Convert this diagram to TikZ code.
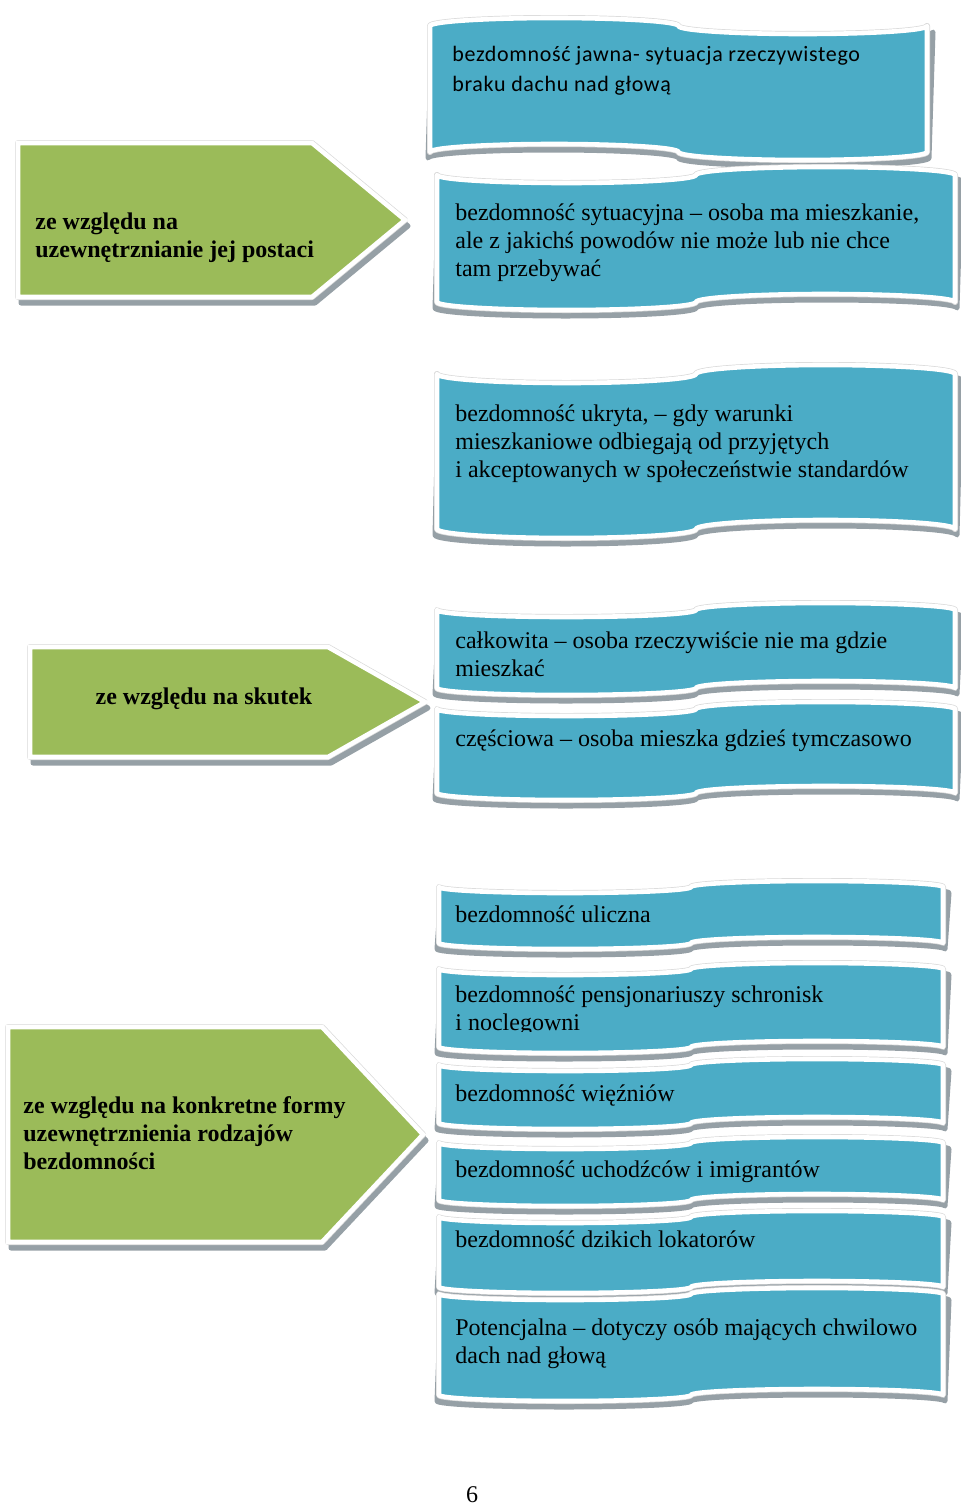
\documentclass[tikz,border=0pt]{standalone}
\usepackage{fontspec}
\setmainfont{Liberation Serif}
\newfontfamily\calibri[LetterSpace=3]{Carlito}
\usetikzlibrary{positioning}

\definecolor{wblue}{HTML}{4BACC6}
\definecolor{wgreen}{HTML}{9BBB59}
\definecolor{shade}{RGB}{150,160,166}

% wavy ribbon: left, top, right, bottom, amplitude, side (1 = left half high)
\newcommand{\wavepath}[6]{(#1,#2+#5)
  arc[start angle=180, end angle={180+180*#6}, x radius={(#3-#1)/4}, y radius=#5]
  arc[start angle=180, end angle={180-180*#6}, x radius={(#3-#1)/4}, y radius=#5]
  -- (#3,#4-#5)
  arc[start angle=0, end angle={180*#6}, x radius={(#3-#1)/4}, y radius=#5]
  arc[start angle={180+180*#6}, end angle=180, x radius={(#3-#1)/4}, y radius=#5]
  -- cycle}
\newcommand{\wave}[6]{%
  \fill[shadow] \wavepath{#1+2}{#2+6}{#3+2}{#4+6}{#5}{#6};
  \draw[rim] \wavepath{#1}{#2}{#3}{#4}{#5}{#6};
  \draw[ribbon] \wavepath{#1}{#2}{#3}{#4}{#5}{#6};}
% pointer: left, top, end of body, tip, bottom
\newcommand{\plate}[5]{%
  \fill[shadow] (#1+3,#2+6) -- (#3+3,#2+6) -- (#4+3,{(#2+#5)/2+6}) -- (#3+3,#5+6) -- (#1+3,#5+6) -- cycle;
  \draw[rim] (#1,#2) -- (#3,#2) -- (#4,{(#2+#5)/2}) -- (#3,#5) -- (#1,#5) -- cycle;
  \draw[pointer] (#1,#2) -- (#3,#2) -- (#4,{(#2+#5)/2}) -- (#3,#5) -- (#1,#5) -- cycle;}

\begin{document}
\begin{tikzpicture}[x=0.5pt, y=-0.5pt,
    shadow/.style={fill=shade, draw=shade, line width=2.5pt, line join=round},
    rim/.style={draw=black!15, line width=3pt, line join=round},
    ribbon/.style={draw=white, line width=2.3pt, fill=wblue, line join=round},
    pointer/.style={draw=white, line width=2.3pt, fill=wgreen, line join=miter},
    txt/.style={inner sep=0pt, align=left, anchor=base west, font=\fontsize{12}{14}\selectfont},
    head/.style={txt, font=\fontsize{12}{14}\selectfont\bfseries}]
  \useasboundingbox (0,0) rectangle (960,1505);

  % ribbons on the right
  \wave{430}{18}{927}{160}{8}{1}
  \wave{437}{167}{955}{310}{8}{-1}
  \wave{437}{365}{955}{538}{9}{-1}
  \wave{437}{603}{955}{695}{7}{-1}
  \wave{437}{702}{955}{800}{7}{-1}
  \wave{439}{881}{943}{949}{6}{-1}
  \wave{439}{963}{943}{1053}{6}{-1}
  \wave{439}{1059}{943}{1129}{6}{-1}
  \wave{439}{1137}{943}{1206}{6}{-1}
  \wave{439}{1211}{943}{1293}{6}{-1}
  \wave{439}{1288}{943}{1401}{6}{-1}

  % pointers on the left
  \plate{18}{143}{312}{405}{297}
  \plate{30}{647}{328}{425}{757}
  \plate{8}{1027}{322}{423}{1242}

  % nodes sit on the baseline of their last line
  \node[txt, font=\calibri\fontsize{11}{15}\selectfont] (jawna) at (452,91)
    {bezdomność jawna- sytuacja rzeczywistego\\braku dachu nad głową};
  \node[txt] (sytuacyjna) at (455,276)
    {bezdomność sytuacyjna -- osoba ma mieszkanie,\\ale z jakichś powodów nie może lub nie chce\\tam przebywać};
  \node[txt] (ukryta) at (455,477)
    {bezdomność ukryta, -- gdy warunki\\mieszkaniowe odbiegają od przyjętych\\i akceptowanych w społeczeństwie standardów};
  \node[txt] (calkowita) at (455,676)
    {całkowita -- osoba rzeczywiście nie ma gdzie\\mieszkać};
  \node[txt] (czesciowa) at (455,746) {częściowa -- osoba mieszka gdzieś tymczasowo};
  \node[txt] (uliczna) at (455,922) {bezdomność uliczna};
  \begin{scope}
    \clip (440,960) rectangle (940,1031);
    \node[txt] (schroniska) at (455,1030)
      {bezdomność pensjonariuszy schronisk\\i noclegowni};
  \end{scope}
  \node[txt] (wiezniow) at (455,1101) {bezdomność więźniów};
  \node[txt] (uchodzcow) at (455,1177) {bezdomność uchodźców i imigrantów};
  \node[txt] (lokatorow) at (455,1247) {bezdomność dzikich lokatorów};
  \node[txt] (potencjalna) at (455,1363)
    {Potencjalna -- dotyczy osób mających chwilowo\\dach nad głową};

  \node[head] (postaci) at (35,257) {ze względu na\\uzewnętrznianie jej postaci};
  \node[head, anchor=base] (skutek) at (204,704) {ze względu na skutek};
  \node[head] (formy) at (23,1169)
    {ze względu na konkretne formy\\uzewnętrznienia rodzajów\\bezdomności};

  \node[txt, anchor=base] (strona) at (472,1502) {6};
\end{tikzpicture}
\end{document}
